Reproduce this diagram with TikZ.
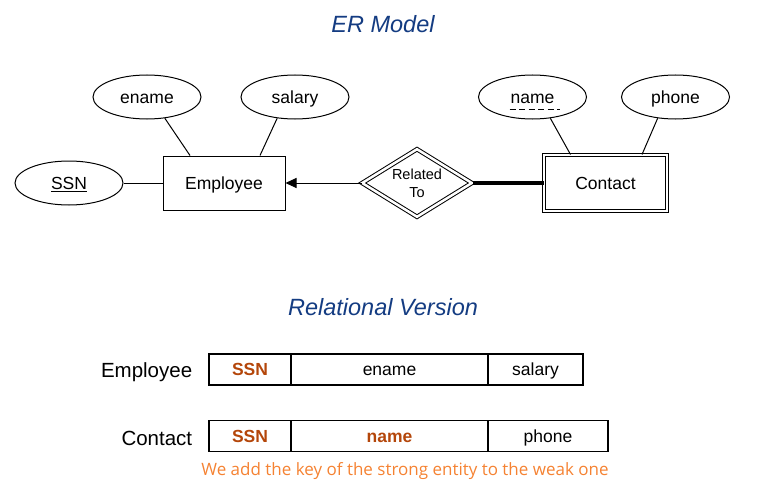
\documentclass[tikz,border=0pt]{standalone}
\usepackage{fontspec}
\setmainfont{Liberation Sans}
\newfontfamily\notefont{Open Sans}
\usetikzlibrary{shapes.geometric,arrows.meta,positioning}
\definecolor{titleblue}{RGB}{20,60,130}
\definecolor{keybrown}{RGB}{180,70,10}
\definecolor{noteorange}{RGB}{245,130,50}
\begin{document}
\begin{tikzpicture}[x=1pt, y=-1pt, line width=1pt, font=\fontsize{17.5}{20}\selectfont, text height=12.7pt, text depth=0pt, title/.style={font=\fontsize{23.5}{28}\selectfont\itshape, text=titleblue, text height=17pt}, attr/.style={ellipse, draw, minimum width=108pt, minimum height=44pt, inner sep=0pt}, entity/.style={rectangle, draw, minimum width=122pt, minimum height=54pt}, cell/.style={rectangle, draw, line width=1.2pt, minimum height=31pt, inner sep=0pt, outer sep=0pt}, key/.style={text=keybrown, font=\fontsize{17.5}{20}\selectfont\bfseries}, rowlabel/.style={font=\fontsize{20.5}{24}\selectfont, text height=14.8pt, anchor=east}]
  \useasboundingbox (0,0) rectangle (767,492);
  \node[title] (ertitle) at (383,24) {ER Model};
  % strong entity
  \node[entity] (employee) at (224,183) {Employee};
  \node[attr] (ename) at (147,97) {ename};
  \node[attr] (salary) at (295,97) {salary};
  \node[attr] (ssn) at (69,183) {\underline{SSN}};
  % weak entity and its relationship
  \node[diamond, draw, double, double distance=2.5pt, aspect=1.6, minimum width=110pt, minimum height=68pt, inner sep=0pt, align=center, text height=, text depth=, font=\fontsize{14.5}{18}\selectfont] (rel) at (417,183) {Related\\To};
  \node[entity, double, double distance=2.5pt, minimum width=123pt, minimum height=56pt] (contact) at (605.5,183) {Contact};
  \node[attr] (name) at (532.5,97) {name};
  \node[attr] (phone) at (675.5,97) {phone};
  \draw[dash pattern=on 6pt off 3.5pt] ([xshift=-23pt,yshift=-12pt]name.center) -- ([xshift=27pt,yshift=-12pt]name.center);
  \draw (ename.-50) -- ([xshift=-34pt]employee.north);
  \draw (salary.-130) -- ([xshift=36pt]employee.north);
  \draw (ssn) -- (employee);
  \draw[-{Triangle[length=11pt,width=10pt]}] (rel.west) -- (employee.east);
  \draw[line width=4pt] (rel.east) -- (contact.west);
  \draw (name.-50) -- ([xshift=-35pt]contact.north);
  \draw (phone.-130) -- ([xshift=36.5pt]contact.north);
  % relational version
  \node[title] (reltitle) at (383,307) {Relational Version};
  \node[cell, key, minimum width=82pt, anchor=west] (essn) at (209,369.5) {SSN};
  \node[cell, minimum width=197pt, right=0pt of essn] (eename) {ename};
  \node[cell, minimum width=95pt, right=0pt of eename] (esalary) {salary};
  \node[cell, key, minimum width=82pt, anchor=west] (cssn) at (209,436) {SSN};
  \node[cell, key, minimum width=197pt, right=0pt of cssn] (cname) {name};
  \node[cell, minimum width=120pt, right=0pt of cname] (cphone) {phone};
  \node[rowlabel] (elabel) at (196,370) {Employee};
  \node[rowlabel] (clabel) at (196,438) {Contact};
  \node[font=\notefont\fontsize{17}{20}\selectfont, text=noteorange, text height=12.1pt] (note) at (405,469) {We add the key of the strong entity to the weak one};
\end{tikzpicture}
\end{document}
